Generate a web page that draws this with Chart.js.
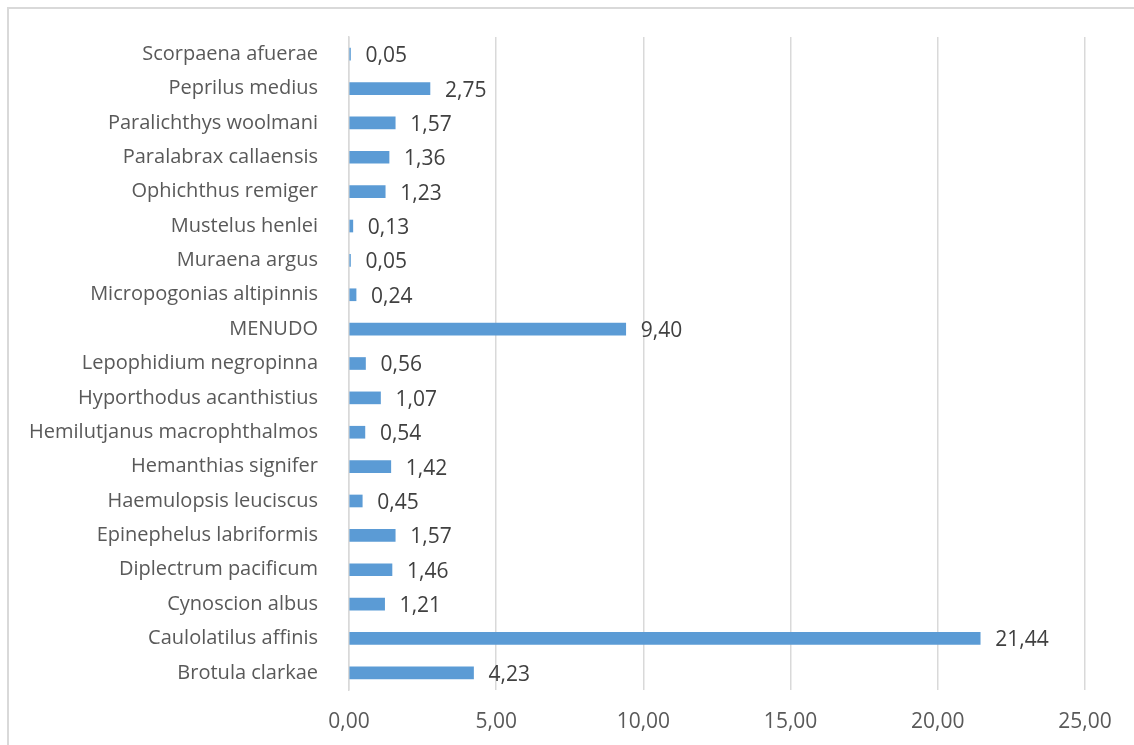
<!DOCTYPE html>
<html>
<head>
<meta charset="utf-8">
<script src="https://cdn.jsdelivr.net/npm/chart.js@4"></script>
<style>
  body { margin: 0; background: #fff; overflow: hidden; }
  #frame { position: absolute; left: 7px; top: 7px; width: 1200px; height: 800px; border: 2px solid #d9d9d9; }
  #wrap { position: absolute; left: 0; top: 0; width: 1134px; height: 745px; }
</style>
</head>
<body>
<div id="frame"></div>
<div id="wrap"><canvas id="chart"></canvas></div>
<script>
const species = [
    "Scorpaena afuerae", "Peprilus medius", "Paralichthys woolmani", "Paralabrax callaensis",
    "Ophichthus remiger", "Mustelus henlei", "Muraena argus", "Micropogonias altipinnis",
    "MENUDO", "Lepophidium negropinna", "Hyporthodus acanthistius", "Hemilutjanus macrophthalmos",
    "Hemanthias signifer", "Haemulopsis leuciscus", "Epinephelus labriformis", "Diplectrum pacificum",
    "Cynoscion albus", "Caulolatilus affinis", "Brotula clarkae"
];
const values = [0.05, 2.75, 1.57, 1.36, 1.23, 0.13, 0.05, 0.24, 9.40, 0.56, 1.07, 0.54, 1.42, 0.45, 1.57, 1.46, 1.21, 21.44, 4.23];
const xTicks = [0, 5, 10, 15, 20, 25];

const fmt = v => v.toFixed(2).replace(".", ",");

// value labels at the end of each bar
const barLabels = {
    id: "barLabels",
    afterDatasetsDraw(chart) {
        const ctx = chart.ctx;
        const meta = chart.getDatasetMeta(0);
        ctx.save();
        ctx.font = '21px "Open Sans"';
        ctx.fillStyle = "#404040";
        ctx.textAlign = "left";
        ctx.textBaseline = "middle";
        meta.data.forEach((bar, i) => {
            ctx.fillText(fmt(values[i]), bar.x + 15, bar.y + 2);
        });
        ctx.restore();
    }
};

new Chart(document.getElementById("chart"), {
    type: "bar",
    data: {
        labels: species,
        datasets: [{ data: values, backgroundColor: "#5b9bd5", barThickness: 12 }]
    },
    options: {
        indexAxis: "y",
        responsive: true,
        maintainAspectRatio: false,
        animation: false,
        layout: { padding: { top: 37, right: 49, left: 0, bottom: 0 } },
        plugins: { legend: { display: false }, tooltip: { enabled: false } },
        scales: {
            x: {
                min: 0,
                max: 25,
                afterBuildTicks: s => { s.ticks = xTicks.map(v => ({ value: v })); },
                afterFit: s => { s.height = 55; },
                grid: { color: "#d9d9d9", lineWidth: 1.5, drawTicks: false },
                border: { display: false },
                ticks: { color: "#595959", font: { family: "Open Sans", size: 21 }, padding: 19, callback: v => fmt(v) }
            },
            y: {
                afterFit: s => { s.width = 349; },
                grid: { display: false },
                border: { display: true, color: "#d9d9d9", width: 1.5 },
                ticks: { color: "#595959", font: { family: "Open Sans", size: 20 }, padding: 23 }
            }
        }
    },
    plugins: [barLabels]
});
</script>
</body>
</html>
